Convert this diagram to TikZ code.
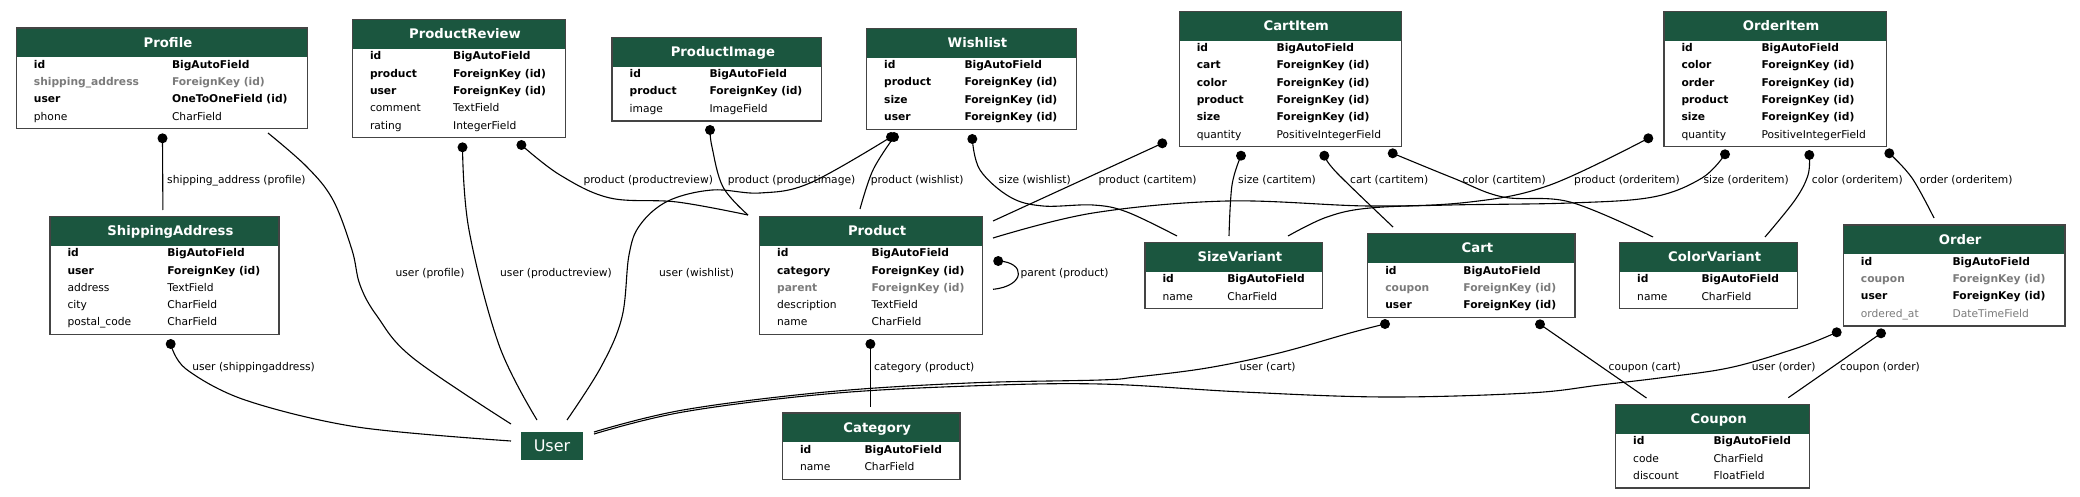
\documentclass[tikz,border=0pt]{standalone}
\usepackage{fontspec}
\setmainfont{DejaVu Sans}
\definecolor{hdrgreen}{HTML}{1B563F}
\definecolor{fgray}{HTML}{7B7B7B}
\definecolor{bordergray}{HTML}{444444}
\tikzset{
  tbox/.style={draw=bordergray, line width=1.3pt, fill=white, inner sep=0pt, anchor=north west},
  hdrfill/.style={fill=hdrgreen},
  ttl/.style={font=\fontsize{13.2}{15}\selectfont\bfseries, text=white, inner sep=0pt, anchor=base},
  fk/.style={font=\fontsize{10.7}{12}\selectfont\bfseries, inner sep=0pt, anchor=base west},
  fr/.style={font=\fontsize{10.7}{12}\selectfont, inner sep=0pt, anchor=base west},
  fkg/.style={fk, text=fgray},
  frg/.style={fr, text=fgray},
  rel/.style={draw=black, line width=1.1pt},
  lbl/.style={font=\fontsize{10.7}{12}\selectfont, inner sep=0pt, anchor=base west},
  tipdot/.style={fill=black},
  userbox/.style={fill=hdrgreen, text=white, font=\fontsize{16}{19}\selectfont, minimum width=61.1pt, minimum height=27.4pt, inner sep=0pt},
}
\newcommand\ertable[6]{%
  \pgfmathsetmacro\erw{#3-#2}%
  \pgfmathsetmacro\erh{49+17.3*(#5-1)}%
  \node[tbox, minimum width=\erw pt, minimum height=\erh pt] (#1) at (#2,#4) {};
  \fill[hdrfill] ([shift={(1.3,1.3)}]#1.north west) rectangle ([shift={(-1.3,30)}]#1.north east);
  \node[ttl] (#1-title) at ([shift={(6,19.8)}]#1.north) {#6};
}
\newcommand\errow[6]{%
  \node[#3] (#1-n#2) at ([shift={(18,41+17.3*#2)}]#1.north west) {#4};
  \node[#3] (#1-t#2) at ([shift={(#6,41+17.3*#2)}]#1.north west) {#5};
}
\begin{document}
\begin{tikzpicture}[x=1pt,y=-1pt]
\useasboundingbox (0,0) rectangle (2080,497);

% ---------- tables ----------
\ertable{profile}{15.7}{307}{27.3}{4}{Profile}
\errow{profile}{0}{fk}{id}{BigAutoField}{156.1}
\errow{profile}{1}{fkg}{shipping\_address}{ForeignKey (id)}{156.1}
\errow{profile}{2}{fk}{user}{OneToOneField (id)}{156.1}
\errow{profile}{3}{fr}{phone}{CharField}{156.1}

\ertable{productreview}{351.8}{565}{19}{5}{ProductReview}
\errow{productreview}{0}{fk}{id}{BigAutoField}{101.1}
\errow{productreview}{1}{fk}{product}{ForeignKey (id)}{101.1}
\errow{productreview}{2}{fk}{user}{ForeignKey (id)}{101.1}
\errow{productreview}{3}{fr}{comment}{TextField}{101.1}
\errow{productreview}{4}{fr}{rating}{IntegerField}{101.1}

\ertable{productimage}{611.4}{821}{36.7}{3}{ProductImage}
\errow{productimage}{0}{fk}{id}{BigAutoField}{97.9}
\errow{productimage}{1}{fk}{product}{ForeignKey (id)}{97.9}
\errow{productimage}{2}{fr}{image}{ImageField}{97.9}

\ertable{wishlist}{866}{1075.7}{27.7}{4}{Wishlist}
\errow{wishlist}{0}{fk}{id}{BigAutoField}{98.3}
\errow{wishlist}{1}{fk}{product}{ForeignKey (id)}{98.3}
\errow{wishlist}{2}{fk}{size}{ForeignKey (id)}{98.3}
\errow{wishlist}{3}{fk}{user}{ForeignKey (id)}{98.3}

\ertable{cartitem}{1178.6}{1400.7}{10.7}{6}{CartItem}
\errow{cartitem}{0}{fk}{id}{BigAutoField}{97.8}
\errow{cartitem}{1}{fk}{cart}{ForeignKey (id)}{97.8}
\errow{cartitem}{2}{fk}{color}{ForeignKey (id)}{97.8}
\errow{cartitem}{3}{fk}{product}{ForeignKey (id)}{97.8}
\errow{cartitem}{4}{fk}{size}{ForeignKey (id)}{97.8}
\errow{cartitem}{5}{fr}{quantity}{PositiveIntegerField}{97.8}

\ertable{orderitem}{1663.3}{1885.7}{10.7}{6}{OrderItem}
\errow{orderitem}{0}{fk}{id}{BigAutoField}{98}
\errow{orderitem}{1}{fk}{color}{ForeignKey (id)}{98}
\errow{orderitem}{2}{fk}{order}{ForeignKey (id)}{98}
\errow{orderitem}{3}{fk}{product}{ForeignKey (id)}{98}
\errow{orderitem}{4}{fk}{size}{ForeignKey (id)}{98}
\errow{orderitem}{5}{fr}{quantity}{PositiveIntegerField}{98}

\ertable{shippingaddress}{49.3}{278.2}{215.7}{5}{ShippingAddress}
\errow{shippingaddress}{0}{fk}{id}{BigAutoField}{117.8}
\errow{shippingaddress}{1}{fk}{user}{ForeignKey (id)}{117.8}
\errow{shippingaddress}{2}{fr}{address}{TextField}{117.8}
\errow{shippingaddress}{3}{fr}{city}{CharField}{117.8}
\errow{shippingaddress}{4}{fr}{postal\_code}{CharField}{117.8}

\ertable{product}{758.9}{982.1}{215.7}{5}{Product}
\errow{product}{0}{fk}{id}{BigAutoField}{112.5}
\errow{product}{1}{fk}{category}{ForeignKey (id)}{112.5}
\errow{product}{2}{fkg}{parent}{ForeignKey (id)}{112.5}
\errow{product}{3}{fr}{description}{TextField}{112.5}
\errow{product}{4}{fr}{name}{CharField}{112.5}

\ertable{category}{781.8}{959.3}{412.3}{2}{Category}
\errow{category}{0}{fk}{id}{BigAutoField}{82.5}
\errow{category}{1}{fr}{name}{CharField}{82.5}

\ertable{sizevariant}{1144.3}{1322.1}{241.7}{2}{SizeVariant}
\errow{sizevariant}{0}{fk}{id}{BigAutoField}{82.8}
\errow{sizevariant}{1}{fr}{name}{CharField}{82.8}

\ertable{cart}{1367.1}{1574.3}{233}{3}{Cart}
\errow{cart}{0}{fk}{id}{BigAutoField}{96.1}
\errow{cart}{1}{fkg}{coupon}{ForeignKey (id)}{96.1}
\errow{cart}{2}{fk}{user}{ForeignKey (id)}{96.1}

\ertable{colorvariant}{1619}{1797}{241.7}{2}{ColorVariant}
\errow{colorvariant}{0}{fk}{id}{BigAutoField}{82.3}
\errow{colorvariant}{1}{fr}{name}{CharField}{82.3}

\ertable{order}{1842.7}{2064.3}{224.3}{4}{Order}
\errow{order}{0}{fk}{id}{BigAutoField}{109.6}
\errow{order}{1}{fkg}{coupon}{ForeignKey (id)}{109.6}
\errow{order}{2}{fk}{user}{ForeignKey (id)}{109.6}
\errow{order}{3}{frg}{ordered\_at}{DateTimeField}{109.6}

\ertable{coupon}{1615}{1809}{403.7}{3}{Coupon}
\errow{coupon}{0}{fk}{id}{BigAutoField}{98.3}
\errow{coupon}{1}{fr}{code}{CharField}{98.3}
\errow{coupon}{2}{fr}{discount}{FloatField}{98.3}

\node[userbox] (User) at (552,446) {User};

% ---------- connector end points ----------
\coordinate (e1s) at (162.5,138.3);  \coordinate (e1e) at (162.9,210);
\coordinate (e2s) at (268,133);      \coordinate (e2e) at (511,424);
\coordinate (e3s) at (462.5,147.3);  \coordinate (e3e) at (537,420);
\coordinate (e4s) at (521.4,145);    \coordinate (e4e) at (748,215);
\coordinate (e5s) at (710,130);      \coordinate (e5e) at (748,215);
\coordinate (e6s) at (894,137);      \coordinate (e6e) at (860,209);
\coordinate (e7s) at (891,137);      \coordinate (e7e) at (567,420);
\coordinate (e8s) at (972.3,139);    \coordinate (e8e) at (1177,236);
\coordinate (e9s) at (1162.3,143.3); \coordinate (e9e) at (993,221);
\coordinate (e10s) at (1241,155.7);  \coordinate (e10e) at (1229,236);
\coordinate (e11s) at (1324.3,155.7);\coordinate (e11e) at (1393,227);
\coordinate (e12s) at (1392.7,153.3);\coordinate (e12e) at (1653,237);
\coordinate (e13s) at (1648.3,138.3);\coordinate (e13e) at (993,238);
\coordinate (e14s) at (1725,154.3);  \coordinate (e14e) at (1288,236);
\coordinate (e15s) at (1809.3,155);  \coordinate (e15e) at (1765,237);
\coordinate (e16s) at (1889.3,153.3);\coordinate (e16e) at (1934,218);
\coordinate (e17s) at (998.2,261);   \coordinate (e17e) at (993,289.3);
\coordinate (e18s) at (870.4,344);   \coordinate (e18e) at (870.4,406.7);
\coordinate (e19s) at (170.7,344);   \coordinate (e19e) at (511,441);
\coordinate (e20s) at (1385,324);    \coordinate (e20e) at (594,432);
\coordinate (e21s) at (1836.7,332.3);\coordinate (e21e) at (594,434);
\coordinate (e22s) at (1540,324.3);  \coordinate (e22e) at (1646.5,398);
\coordinate (e23s) at (1881,333.3);  \coordinate (e23e) at (1788.3,397.7);

% ---------- connectors ----------
\draw[rel] (e1s) -- (e1e);
\draw[rel] plot[smooth, tension=0.6] coordinates {(e2s) (307,167) (333,200) (352,250) (360,285) (377,316) (413,358) (e2e)};
\draw[rel] plot[smooth, tension=0.6] coordinates {(e3s) (469,230) (499,345) (e3e)};
\draw[rel] plot[smooth, tension=0.6] coordinates {(e4s) (560,175) (610,198) (677,202) (e4e)};
\draw[rel] plot[smooth, tension=0.6] coordinates {(e5s) (712,147) (723,187) (e5e)};
\draw[rel] plot[smooth, tension=0.6] coordinates {(e6s) (873,170) (e6e)};
\draw[rel] plot[smooth, tension=0.6] coordinates {(e7s) (810,183) (760,193) (712,190) (668,201) (640,225) (629,255) (622,317) (601,367) (e7e)};
\draw[rel] plot[smooth, tension=0.6] coordinates {(e8s) (980,170) (1010,197) (1043,206) (1093,205) (1127,212) (e8e)};
\draw[rel] (e9s) -- (e9e);
\draw[rel] plot[smooth, tension=0.6] coordinates {(e10s) (1232,185) (e10e)};
\draw[rel] plot[smooth, tension=0.6] coordinates {(e11s) (1337,173) (e11e)};
\draw[rel] plot[smooth, tension=0.6] coordinates {(e12s) (1453,178) (1503,197) (1570,202) (e12e)};
\draw[rel] plot[smooth, tension=0.6] coordinates {(e13s) (1550,185) (1470,202) (1370,206) (1227,201) (1093,213) (e13e)};
\draw[rel] plot[smooth, tension=0.6] coordinates {(e14s) (1702,178) (1653,197) (1570,203) (1450,205) (1370,208) (1327,217) (e14e)};
\draw[rel] plot[smooth, tension=0.6] coordinates {(e15s) (1808,175) (1795,200) (e15e)};
\draw[rel] plot[smooth, tension=0.6] coordinates {(e16s) (1912,178) (e16e)};
\draw[rel] (e17s) .. controls (1026,262) and (1026,286) .. (e17e);
\draw[rel] (e18s) -- (e18e);
\draw[rel] plot[smooth, tension=0.55] coordinates {(e19s) (186,369) (245,400) (357,427) (e19e)};
\draw[rel] plot[smooth, tension=0.6] coordinates {(e20s) (1350,333) (1279,353) (1207,368) (1136,377) (1100,380) (969,383) (826,392) (683,410) (e20e)};
\draw[rel] plot[smooth, tension=0.6] coordinates {(e21s) (1800,347) (1733,367) (1667,377) (1600,385) (1529,393) (1386,397) (1243,392) (1100,384) (969,386) (826,394) (683,412) (e21e)};
\draw[rel] (e22s) -- (e22e);
\draw[rel] (e23s) -- (e23e);

% ---------- end dots ----------
\foreach \d in {e1s,e3s,e4s,e5s,e6s,e7s,e8s,e9s,e10s,e11s,e12s,e13s,e14s,e15s,e16s,e17s,e18s,e19s,e20s,e21s,e22s,e23s}
  \fill[tipdot] (\d) circle[radius=5pt];

% ---------- labels ----------
\node[lbl] (l1) at (167,184) {shipping\_address (profile)};
\node[lbl] (l2) at (395.4,276.7) {user (profile)};
\node[lbl] (l3) at (500,276.7) {user (productreview)};
\node[lbl] (l4) at (583.3,183.3) {product (productreview)};
\node[lbl] (l5) at (727.7,183.3) {product (productimage)};
\node[lbl] (l6) at (870.7,183.3) {product (wishlist)};
\node[lbl] (l7) at (659,276.7) {user (wishlist)};
\node[lbl] (l8) at (998.3,183.3) {size (wishlist)};
\node[lbl] (l9) at (1098.3,183.3) {product (cartitem)};
\node[lbl] (l10) at (1238,183.3) {size (cartitem)};
\node[lbl] (l11) at (1350,183.3) {cart (cartitem)};
\node[lbl] (l12) at (1462.3,183.3) {color (cartitem)};
\node[lbl] (l13) at (1574,183.3) {product (orderitem)};
\node[lbl] (l14) at (1703.3,183.3) {size (orderitem)};
\node[lbl] (l15) at (1811.7,183.3) {color (orderitem)};
\node[lbl] (l16) at (1919.3,183.3) {order (orderitem)};
\node[lbl] (l17) at (1020.4,276.7) {parent (product)};
\node[lbl] (l18) at (874,370.7) {category (product)};
\node[lbl] (l19) at (192.1,370.7) {user (shippingaddress)};
\node[lbl] (l20) at (1239.3,370.7) {user (cart)};
\node[lbl] (l22) at (1608.5,370.7) {coupon (cart)};
\node[lbl] (l21) at (1751.7,370.7) {user (order)};
\node[lbl] (l23) at (1840,370.7) {coupon (order)};
\end{tikzpicture}
\end{document}
